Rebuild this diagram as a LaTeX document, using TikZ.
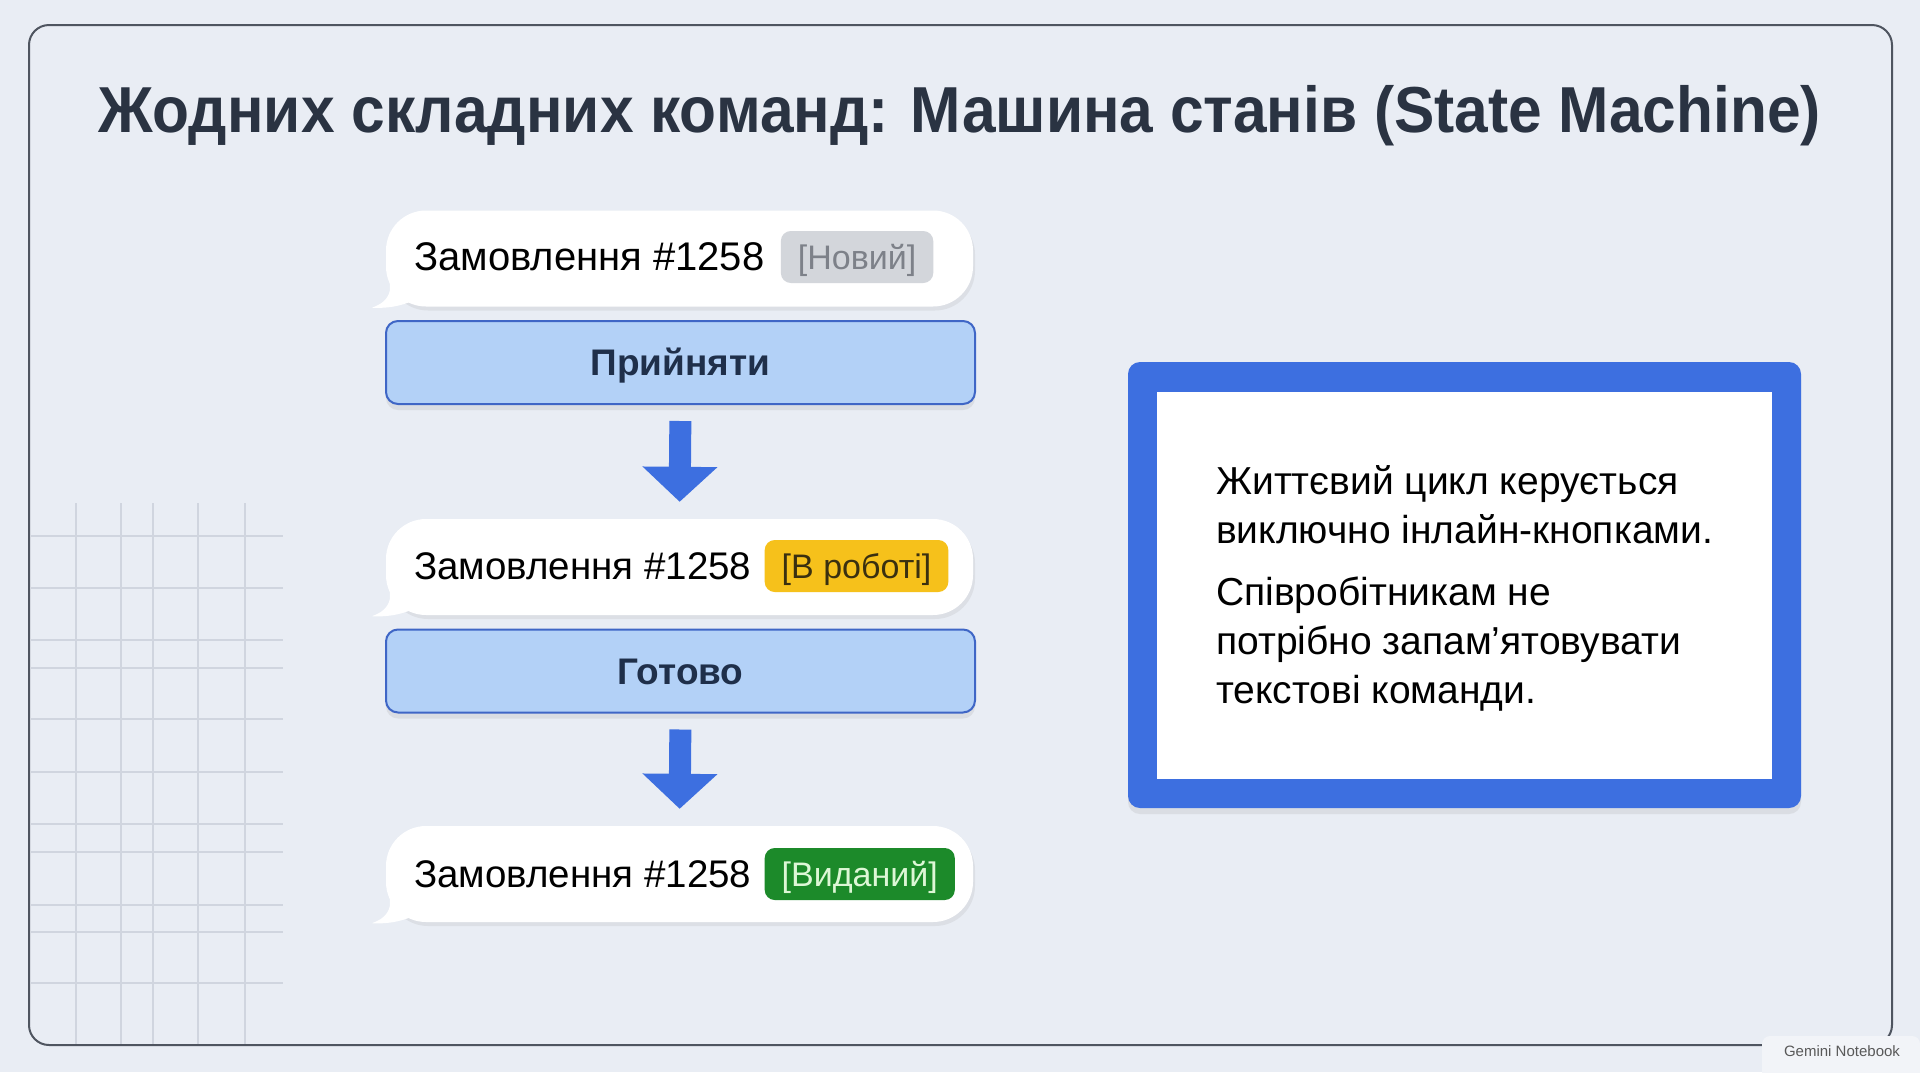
\documentclass[tikz,border=0pt]{standalone}
\usepackage{fontspec}
\setmainfont{Liberation Sans}
\newfontfamily\titlefont[FakeStretch=0.93]{Liberation Sans}
\usetikzlibrary{arrows.meta,shadows,positioning}

\definecolor{pagebg}{HTML}{E9EDF4}
\definecolor{framegray}{HTML}{4F5560}
\definecolor{titleink}{HTML}{2A3342}
\definecolor{btnfill}{HTML}{B3D1F7}
\definecolor{btnline}{HTML}{3F66C6}
\definecolor{btnink}{HTML}{1F2F4A}
\definecolor{arrowblue}{HTML}{3D6FE0}
\definecolor{tagnew}{HTML}{D3D6DB}
\definecolor{tagnewink}{HTML}{7D8189}
\definecolor{tagwork}{HTML}{F6C11B}
\definecolor{tagworkink}{HTML}{3A3010}
\definecolor{tagdone}{HTML}{1C8A2A}
\definecolor{tagdoneink}{HTML}{DDF7D6}
\definecolor{gridline}{HTML}{D0D5DF}

\begin{document}
\begin{tikzpicture}[x=1pt,y=-1pt,
    bubble/.style={fill=white, rounded corners=40pt, inner sep=0pt,
      minimum width=587pt, minimum height=96pt,
      drop shadow={opacity=0.12, shadow xshift=2pt, shadow yshift=-4pt}},
    ordertext/.style={font=\fontsize{#1}{44}\selectfont, text=black, inner sep=0pt},
    tag/.style={rounded corners=10pt, inner xsep=17pt, inner ysep=0pt,
      minimum height=52pt, text height=24pt, text depth=0pt,
      font=\fontsize{34}{40}\selectfont},
    btn/.style={fill=btnfill, draw=btnline, line width=2pt, rounded corners=12pt,
      minimum width=589pt, minimum height=83pt, text=btnink,
      text height=26pt, text depth=0pt,
      font=\bfseries\fontsize{37}{40}\selectfont,
      drop shadow={opacity=0.14, shadow xshift=0pt, shadow yshift=-6pt}},
    flow/.style={arrowblue, line width=22pt,
      -{Triangle[width=73pt,length=35pt]}, shorten <=16pt, shorten >=17pt}]

  \useasboundingbox (0,0) rectangle (1920,1072);
  \fill[pagebg] (0,0) rectangle (1920,1072);

  % grid
  \foreach \gx in {76,121,153,198,245}
    \draw[gridline, line width=1.5pt] (\gx,503) -- (\gx,1045);
  \foreach \gy in {536,588,640,668,719,772,824,852,905,932,983}
    \draw[gridline, line width=1.5pt] (31,\gy) -- (283,\gy);

  \draw[framegray, line width=2pt, rounded corners=20pt] (29,25) rectangle (1892,1045);

  \node[font=\titlefont\bfseries\fontsize{65}{72}\selectfont, text=titleink] (title) at (960,116)
    {Жодних складних команд: Машина станів (State Machine)};

  % chat messages
  \node[bubble] (bub1) at (679.5,258.5) {};
  \node[bubble] (bub2) at (679.5,567) {};
  \node[bubble] (bub3) at (679.5,874) {};
  \foreach \b in {bub1,bub2,bub3}
    \fill[white, shift={(\b.south west)}] (4,-44) -- (4,-16) .. controls (2,-7) and (-5,-2) .. (-14,1)
      .. controls (6,2) and (20,-2) .. (36,-10) -- (44,-44) -- cycle;

  \node[ordertext=40, anchor=west] (ord1) at (414,257) {Замовлення \#1258};
  \node[tag, fill=tagnew, text=tagnewink, right=16pt of ord1] (tag1) {[Новий]};
  \node[ordertext=38.5, anchor=west] (ord2) at (414,566) {Замовлення \#1258};
  \node[tag, fill=tagwork, text=tagworkink, right=13pt of ord2] (tag2) {[В роботі]};
  \node[ordertext=38.5, anchor=west] (ord3) at (414,874) {Замовлення \#1258};
  \node[tag, fill=tagdone, text=tagdoneink, right=13pt of ord3] (tag3) {[Виданий]};

  % buttons
  \node[btn] (btn1) at (680.5,362.5) {Прийняти};
  \node[btn] (btn2) at (680.5,671) {Готово};

  \draw[flow] (btn1.south) -- (bub2.north);
  \draw[flow] (btn2.south) -- (bub3.north);

  % note
  \node[fill=arrowblue, rounded corners=12pt, minimum width=673pt, minimum height=446pt,
    drop shadow={opacity=0.14, shadow xshift=0pt, shadow yshift=-6pt}] (note) at (1464.5,585) {};
  \node[fill=white, minimum width=615pt, minimum height=387pt] (notein) at (1464.5,585.5) {};
  \node[anchor=north west, align=left, inner sep=0pt, text=black,
    font=\fontsize{39}{49}\selectfont] (notetext) at (1216,465)
    {Життєвий цикл керується\\виключно інлайн-кнопками.\\[13pt]Співробітникам не\\потрібно запам’ятовувати\\текстові команди.};

  \fill[pagebg!60!white, rounded corners=8pt] (1762,1036) rectangle (1920,1080);
  \node[text=black!65, font=\fontsize{15}{17}\selectfont] (mark) at (1842,1051) {Gemini Notebook};
\end{tikzpicture}
\end{document}
